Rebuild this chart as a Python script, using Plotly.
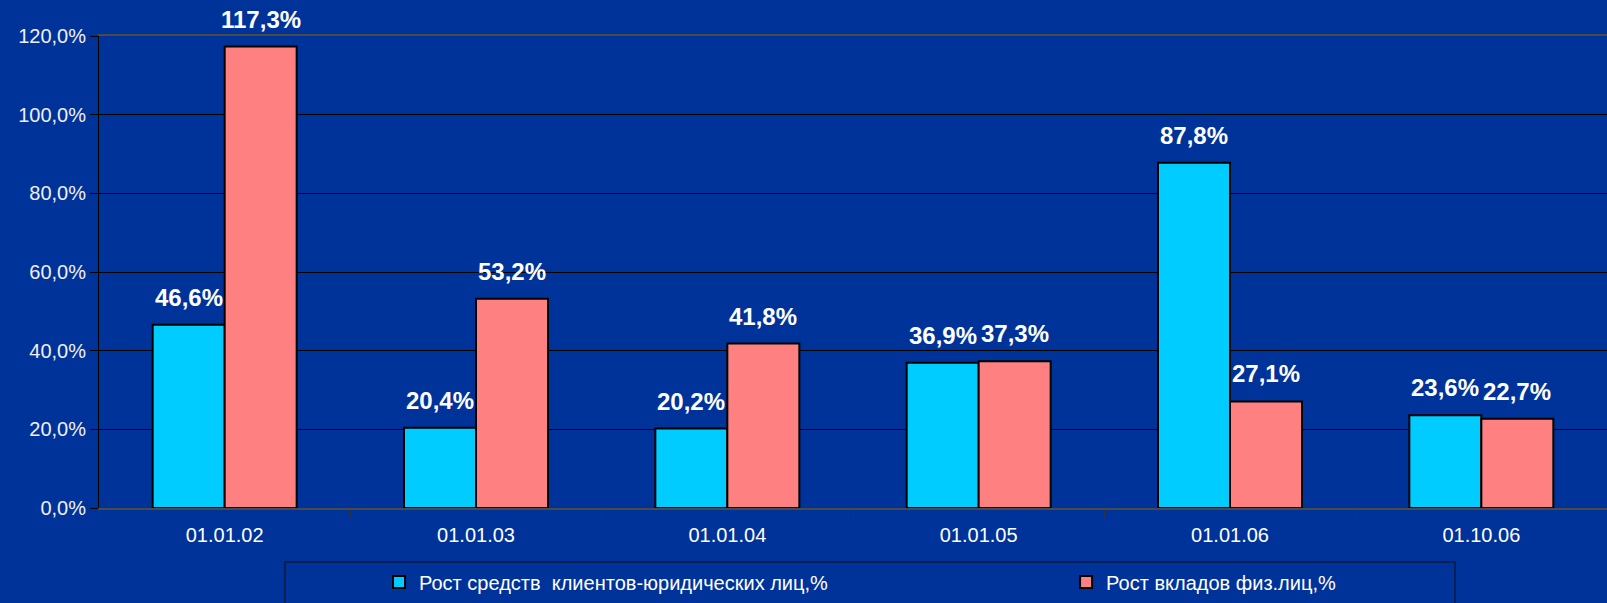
import plotly.graph_objects as go

# data
dates = ["01.01.02", "01.01.03", "01.01.04", "01.01.05", "01.01.06", "01.10.06"]
legal_growth = [46.6, 20.4, 20.2, 36.9, 87.8, 23.6]
deposit_growth = [117.3, 53.2, 41.8, 37.3, 27.1, 22.7]
y_ticks = [0, 20, 40, 60, 80, 100, 120]
y_labels = [f"{v:.1f}%".replace(".", ",") for v in y_ticks]

name_legal = "Рост средств  клиентов-юридических лиц,%"
name_deposit = "Рост вкладов физ.лиц,%"

bg = "#003399"
font = "Arial, Liberation Sans, sans-serif"


def pct(v):
    return f"{v:.1f}%".replace(".", ",")


fig = go.Figure()
fig.add_trace(go.Bar(x=dates, y=legal_growth, name=name_legal, legend="legend",
                     marker=dict(color="#00CCFF", line=dict(color="black", width=2))))
fig.add_trace(go.Bar(x=dates, y=deposit_growth, name=name_deposit, legend="legend2",
                     marker=dict(color="#FF8080", line=dict(color="black", width=2))))

# value labels above each bar
for series, shift in ((legal_growth, -36), (deposit_growth, 36)):
    for d, v in zip(dates, series):
        fig.add_annotation(x=d, y=v, text=pct(v), showarrow=False, xshift=shift,
                           yshift=12, yanchor="bottom",
                           font=dict(family=font, size=24, color="white", weight="bold"))

# legend frame
fig.add_shape(type="rect", xref="paper", yref="paper", x0=0.1233, x1=0.8992,
              y0=-0.35, y1=-0.1145, line=dict(color="#0a1a40", width=1.5))

legend_style = dict(orientation="h", xanchor="left", y=-0.157, yanchor="middle",
                    bgcolor="rgba(0,0,0,0)", font=dict(size=20, color="white"))

fig.update_layout(
    width=1607, height=603,
    paper_bgcolor=bg, plot_bgcolor=bg,
    margin=dict(l=99, r=0, t=36, b=95),
    barmode="group", bargap=0.427, bargroupgap=0,
    font=dict(family=font, size=20, color="white"),
    showlegend=True,
    legend=dict(x=0.1857, **legend_style),
    legend2=dict(x=0.6413, **legend_style),
)
fig.update_xaxes(showline=True, linecolor="#4a4a4a", linewidth=1.5, mirror=True,
                 ticks="outside", tickson="boundaries", ticklen=8, tickcolor="#333333",
                 ticklabelstandoff=8,
                 tickfont=dict(size=20, color="white"), showgrid=False)
fig.update_yaxes(range=[0, 120], tickvals=y_ticks, ticktext=y_labels,
                 showline=True, linecolor="black", linewidth=1,
                 ticks="outside", ticklen=8, tickcolor="black",
                 gridcolor="black", gridwidth=1, zeroline=False,
                 tickfont=dict(size=20, color="#f0f0f0"))

fig.write_html("out.html", config={"displayModeBar": False},
               post_script="document.body.style.margin='0';")
